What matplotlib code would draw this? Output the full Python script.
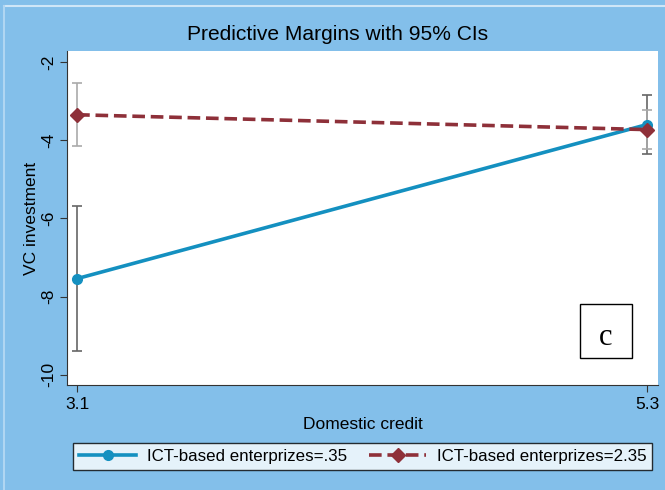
import matplotlib.pyplot as plt
import numpy as np

plt.rcParams['font.family'] = ['Liberation Sans', 'DejaVu Sans']

# predictive margins at two levels of domestic credit
credit = [3.1, 5.3]
low_ict = [-7.54, -3.60]
low_ict_lo = [-9.38, -4.36]
low_ict_hi = [-5.69, -2.85]
high_ict = [-3.35, -3.73]
high_ict_lo = [-4.15, -4.23]
high_ict_hi = [-2.54, -3.23]
series_names = ['ICT-based enterprizes=.35', 'ICT-based enterprizes=2.35']
yticks = [-2, -4, -6, -8, -10]

bg = '#83BFEA'
blue = '#1490C0'
red = '#8E3039'

fig = plt.figure(figsize=(6.65, 4.9), dpi=100, facecolor=bg)
ax = fig.add_axes([67 / 665, 1 - 385 / 490, 591 / 665, 334 / 490])
ax.set_facecolor('white')

# confidence intervals
ax.errorbar(credit, low_ict,
            yerr=[np.subtract(low_ict, low_ict_lo), np.subtract(low_ict_hi, low_ict)],
            fmt='none', ecolor='#666666', elinewidth=1.2, capsize=3.5, capthick=1.2, zorder=2)
ax.errorbar(credit, high_ict,
            yerr=[np.subtract(high_ict, high_ict_lo), np.subtract(high_ict_hi, high_ict)],
            fmt='none', ecolor='#aaaaaa', elinewidth=1.2, capsize=3.5, capthick=1.2, zorder=2)

l1, = ax.plot(credit, low_ict, '-', color=blue, lw=2.6, marker='o', ms=7, zorder=3)
l2, = ax.plot(credit, high_ict, '--', color=red, lw=2.6, marker='D', ms=7,
              dashes=(3.5, 1.6), zorder=4)

ax.set_xlim(3.061, 5.342)
ax.set_ylim(-10.26, -1.72)
ax.set_xticks(credit)
ax.set_xticklabels(['3.1', '5.3'])
ax.set_yticks(yticks)
ax.set_yticklabels([str(t) for t in yticks], rotation=90, va='center')
ax.tick_params(labelsize=12.5, length=5, color='#333333')
ax.tick_params(axis='y', pad=3)

for s in ['top', 'right']:
    ax.spines[s].set_visible(False)
for s in ['left', 'bottom']:
    ax.spines[s].set_color('#333333')

ax.set_xlabel('Domestic credit', fontsize=12.5, labelpad=4)
ax.set_ylabel('VC investment', fontsize=12.5, labelpad=1)
fig.text(338 / 665, 1 - 35 / 490, 'Predictive Margins with 95% CIs', ha='center', va='center',
         fontsize=15.1)

# panel tag
fig.add_artist(plt.Rectangle((580 / 665, 1 - 358 / 490), 52 / 665, 54 / 490, fc='white',
                             ec='black', lw=1, transform=fig.transFigure))
fig.text(606 / 665, 1 - 345 / 490, 'c', ha='center', va='baseline', fontsize=22,
         family='Liberation Serif')

leg = fig.legend([l1, l2], series_names, loc='center', ncol=2,
                 bbox_to_anchor=(362.5 / 665, 1 - 456.5 / 490),
                 fontsize=12.2, frameon=True, fancybox=False, handlelength=3.4,
                 handletextpad=0.6, borderaxespad=0, borderpad=0.35, columnspacing=1.3)
leg.get_frame().set_edgecolor('black')
leg.get_frame().set_linewidth(1)

# thin light border lines near the top and left edge
fig.add_artist(plt.Line2D([4 / 665, 1], [1 - 6 / 490, 1 - 6 / 490], color='#cfe6f7', lw=1.5,
                          transform=fig.transFigure))
fig.add_artist(plt.Line2D([4 / 665, 4 / 665], [0, 1 - 6 / 490], color='#b0d6f2', lw=1.5,
                          transform=fig.transFigure))

fig.savefig('out.png', dpi=100, facecolor=bg)
